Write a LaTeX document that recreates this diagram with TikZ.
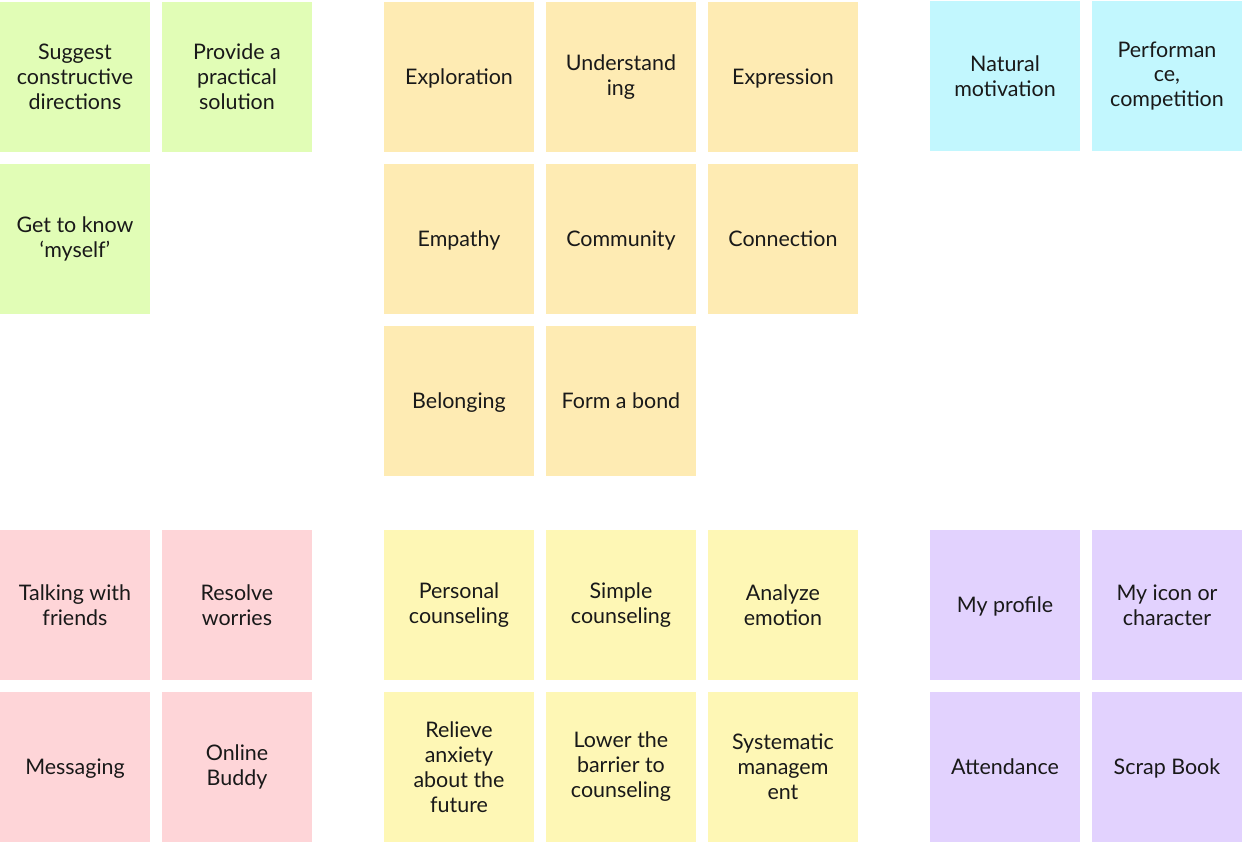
\documentclass[tikz,border=0pt]{standalone}
\usepackage{fontspec}
\setmainfont{Lato}
\usepackage{tikz}
\usetikzlibrary{positioning}
\definecolor{notegreen}{HTML}{E1FDB6}
\definecolor{noteorange}{HTML}{FEEBB3}
\definecolor{notecyan}{HTML}{C2F7FE}
\definecolor{notepink}{HTML}{FED5D8}
\definecolor{noteyellow}{HTML}{FEF7B5}
\definecolor{notepurple}{HTML}{E2D2FE}

\begin{document}
\begin{tikzpicture}[x=0.02cm, y=-0.02cm, node distance=0.24cm]

\tikzstyle{note}=[rectangle,minimum size=3cm,inner sep=0pt,outer sep=0pt,align=center,font=\fontsize{12.2pt}{14.2pt}\selectfont,text=black!90]
\tikzstyle{one line}=[text height=9pt, text depth=0pt]
\tikzstyle{green note}=[note, fill=notegreen]
\tikzstyle{orange note}=[note, fill=noteorange]
\tikzstyle{cyan note}=[note, fill=notecyan]
\tikzstyle{pink note}=[note, fill=notepink]
\tikzstyle{yellow note}=[note, fill=noteyellow]
\tikzstyle{purple note}=[note, fill=notepurple]

\useasboundingbox (0,0) rectangle (1243,842);

% top left
\node[green note] (g1) at (75,77) {Suggest\\constructive\\directions};
\node[green note, right=of g1] (g2) {Provide a\\practical\\solution};
\node[green note, below=of g1] (g3) {Get to know\\`myself'};

% top middle
\node[orange note, one line] (o1) at (459,77) {Exploration};
\node[orange note, right=of o1] (o2) {Understand\\ing};
\node[orange note, one line, right=of o2] (o3) {Expression};
\node[orange note, one line, below=of o1] (o4) {Empathy};
\node[orange note, one line, right=of o4] (o5) {Community};
\node[orange note, one line, right=of o5] (o6) {Connection};
\node[orange note, one line, below=of o4] (o7) {Belonging};
\node[orange note, one line, right=of o7] (o8) {Form a bond};

% top right
\node[cyan note] (c1) at (1005,76) {Natural\\motivation};
\node[cyan note, right=of c1] (c2) {Performan\\ce,\\competition};

% bottom left
\node[pink note] (p1) at (75,605) {Talking with\\friends};
\node[pink note, right=of p1] (p2) {Resolve\\worries};
\node[pink note, one line, below=of p1] (p3) {Messaging};
\node[pink note, right=of p3] (p4) {Online\\Buddy};

% bottom middle
\node[yellow note] (y1) at (459,605) {Personal\\counseling};
\node[yellow note, right=of y1] (y2) {Simple\\counseling};
\node[yellow note, right=of y2] (y3) {Analyze\\emotion};
\node[yellow note, below=of y1] (y4) {Relieve\\anxiety\\about the\\future};
\node[yellow note, right=of y4] (y5) {Lower the\\barrier to\\counseling};
\node[yellow note, right=of y5] (y6) {Systematic\\managem\\ent};

% bottom right
\node[purple note, one line] (u1) at (1005,605) {My profile};
\node[purple note, right=of u1] (u2) {My icon or\\character};
\node[purple note, one line, below=of u1] (u3) {Attendance};
\node[purple note, one line, right=of u3] (u4) {Scrap Book};

\end{tikzpicture}
\end{document}
